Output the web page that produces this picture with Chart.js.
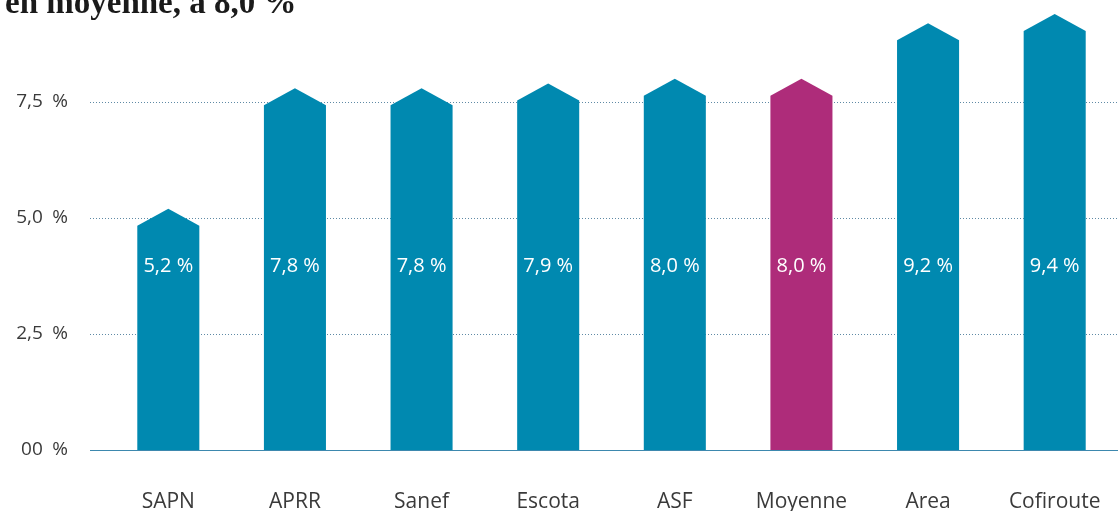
<!DOCTYPE html>
<html>
<head>
<meta charset="utf-8">
<script src="https://cdn.jsdelivr.net/npm/chart.js@4"></script>
<style>
    body { margin: 0; background: #fff; }
    #wrap { position: relative; width: 1118px; height: 511px; overflow: hidden; }
    #title {
        position: absolute; left: 5px; top: -14px;
        font: bold 33px/32px "Liberation Serif", "DejaVu Serif", serif;
        color: #1a1a1a; white-space: nowrap;
    }
    canvas { position: absolute; left: 0; top: 0; }
</style>
</head>
<body>
<div id="wrap">
    <canvas id="chart" width="1118" height="511"></canvas>
    <div id="title">en moyenne, à 8,0 %</div>
</div>
<script>
// data
var categories = ['SAPN', 'APRR', 'Sanef', 'Escota', 'ASF', 'Moyenne', 'Area', 'Cofiroute'];
var values = [5.2, 7.8, 7.8, 7.9, 8.0, 8.0, 9.2, 9.4];
var barColors = ['#0089b0', '#0089b0', '#0089b0', '#0089b0', '#0089b0', '#ae2c7a', '#0089b0', '#0089b0'];
var yTickValues = [0, 2.5, 5, 7.5];
var yTickLabels = ['00\u2002%', '2,5\u2002%', '5,0\u2002%', '7,5\u2002%'];

var HEAD = 17;          // height of the arrow top, px
var LABEL_LEVEL = 3.95; // where the white value labels sit on the y scale
var GRID_LEFT = 90;
var FONT = '"Open Sans", Lato, sans-serif';

function frPercent(v) {
    return v.toFixed(1).replace('.', ',') + ' %';
}

var arrowBars = {
    id: 'arrowBars',
    beforeDatasetsDraw: function (chart) {
        var ctx = chart.ctx;
        var area = chart.chartArea;
        var y = chart.scales.y;

        ctx.save();
        // dotted grid lines
        ctx.lineWidth = 1;
        ctx.strokeStyle = '#5f8aa5';
        ctx.setLineDash([1, 2]);
        yTickValues.forEach(function (v) {
            if (v === 0) return;
            var py = Math.round(y.getPixelForValue(v)) + 0.5;
            ctx.beginPath();
            ctx.moveTo(GRID_LEFT, py);
            ctx.lineTo(area.right, py);
            ctx.stroke();
        });
        // zero line
        ctx.setLineDash([]);
        ctx.strokeStyle = '#3d88ae';
        var p0 = Math.round(y.getPixelForValue(0)) + 0.5;
        ctx.beginPath();
        ctx.moveTo(GRID_LEFT, p0);
        ctx.lineTo(area.right, p0);
        ctx.stroke();

        // arrow shaped bars
        var meta = chart.getDatasetMeta(0);
        meta.data.forEach(function (bar, i) {
            var p = bar.getProps(['x', 'y', 'base', 'width'], true);
            var l = p.x - p.width / 2;
            var r = p.x + p.width / 2;
            ctx.fillStyle = barColors[i];
            ctx.beginPath();
            ctx.moveTo(l, p.base);
            ctx.lineTo(l, p.y + HEAD);
            ctx.lineTo(p.x, p.y);
            ctx.lineTo(r, p.y + HEAD);
            ctx.lineTo(r, p.base);
            ctx.closePath();
            ctx.fill();
        });

        // white value labels
        ctx.fillStyle = '#ffffff';
        ctx.font = '20px ' + FONT;
        ctx.textAlign = 'center';
        ctx.textBaseline = 'middle';
        var ly = y.getPixelForValue(LABEL_LEVEL);
        meta.data.forEach(function (bar, i) {
            ctx.fillText(frPercent(values[i]), bar.x, ly);
        });
        ctx.restore();
        return false;
    }
};

Chart.defaults.font.family = FONT;
Chart.defaults.font.size = 19;
Chart.defaults.color = '#3a3a3a';

var chart = new Chart(document.getElementById('chart').getContext('2d'), {
    type: 'bar',
    data: {
        labels: categories,
        datasets: [{
            data: values,
            backgroundColor: barColors,
            barPercentage: 0.49,
            categoryPercentage: 1
        }]
    },
    options: {
        responsive: false,
        animation: false,
        layout: { padding: 0 },
        plugins: {
            legend: { display: false },
            tooltip: { enabled: false }
        },
        scales: {
            x: {
                grid: { display: false, drawTicks: false },
                border: { display: false },
                ticks: { padding: 39, font: { size: 21 }, maxRotation: 0 },
                afterFit: function (scale) {
                    scale.height = 61;
                    scale.paddingLeft = 0;
                    scale.paddingRight = 0;
                }
            },
            y: {
                min: 0,
                max: 9.7,
                grid: { display: false, drawTicks: false },
                border: { display: false },
                afterBuildTicks: function (scale) {
                    scale.ticks = yTickValues.map(function (v) { return { value: v }; });
                },
                ticks: {
                    padding: 37,
                    callback: function (value, index) {
                        return yTickLabels[index];
                    }
                },
                afterFit: function (scale) {
                    scale.width = 105;
                    scale.paddingTop = 0;
                    scale.paddingBottom = 0;
                }
            }
        }
    },
    plugins: [arrowBars]
});
</script>
</body>
</html>
